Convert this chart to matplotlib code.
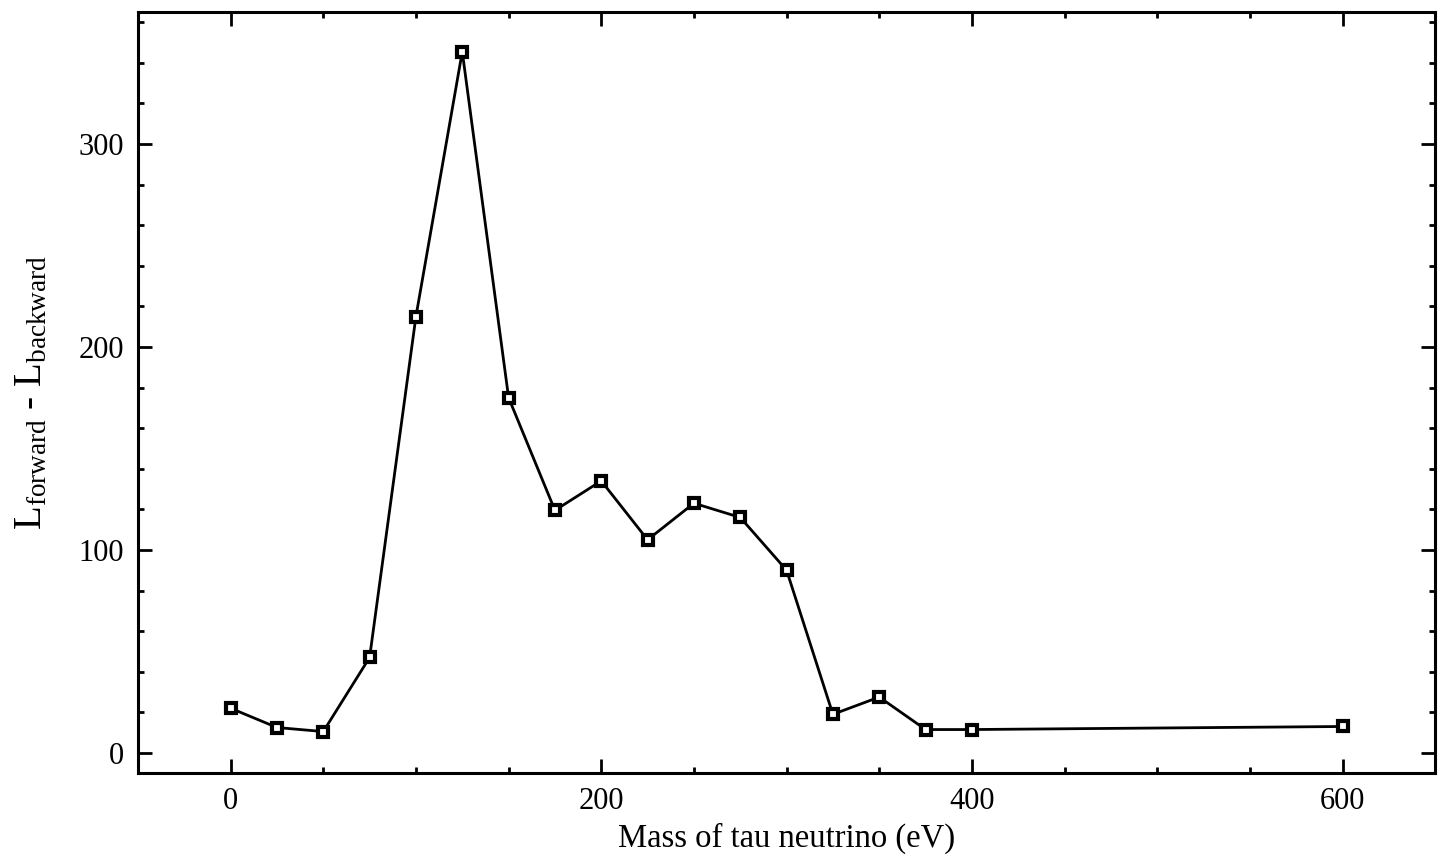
import matplotlib
matplotlib.use("Agg")
import matplotlib.pyplot as plt
from matplotlib.ticker import MultipleLocator

plt.rcParams['font.family'] = ['Liberation Serif', 'DejaVu Serif']
plt.rcParams['mathtext.fontset'] = 'custom'
plt.rcParams['mathtext.rm'] = 'Liberation Serif'
plt.rcParams['mathtext.it'] = 'Liberation Serif:italic'

# likelihood difference vs. tau neutrino mass
mass_ev = [0, 25, 50, 75, 100, 125, 150, 175, 200, 225, 250, 275, 300, 325, 350, 375, 400, 600]
delta_l = [22, 12.5, 10.5, 47, 215, 345.5, 175, 119.5, 134, 105, 123, 116, 90, 19, 27.5, 11.5, 11.5, 13]

fig = plt.figure(figsize=(14.43, 8.61), dpi=100)
ax = fig.add_axes([0.0956, 0.102, 0.899, 0.884])

ax.plot(mass_ev, delta_l, color='black', linewidth=2.0,
        marker='s', markersize=7, markerfacecolor='white',
        markeredgecolor='black', markeredgewidth=3.0)

ax.set_xlim(-50, 650)
ax.set_ylim(-10, 365)

ax.xaxis.set_major_locator(MultipleLocator(200))
ax.xaxis.set_minor_locator(MultipleLocator(50))
ax.yaxis.set_major_locator(MultipleLocator(100))
ax.yaxis.set_minor_locator(MultipleLocator(20))

ax.tick_params(which='both', direction='in', top=True, right=True,
               width=2.0, labelsize=22, pad=10)
ax.tick_params(which='major', length=10)
ax.tick_params(which='minor', length=4.5)

for side in ax.spines.values():
    side.set_linewidth(2.2)

ax.set_xlabel('Mass of tau neutrino (eV)', fontsize=23.5, labelpad=5)
ax.set_ylabel(r'L$_{\rm forward}$ - L$_{\rm backward}$', fontsize=28, labelpad=20)

fig.savefig('out.png', dpi=100)
